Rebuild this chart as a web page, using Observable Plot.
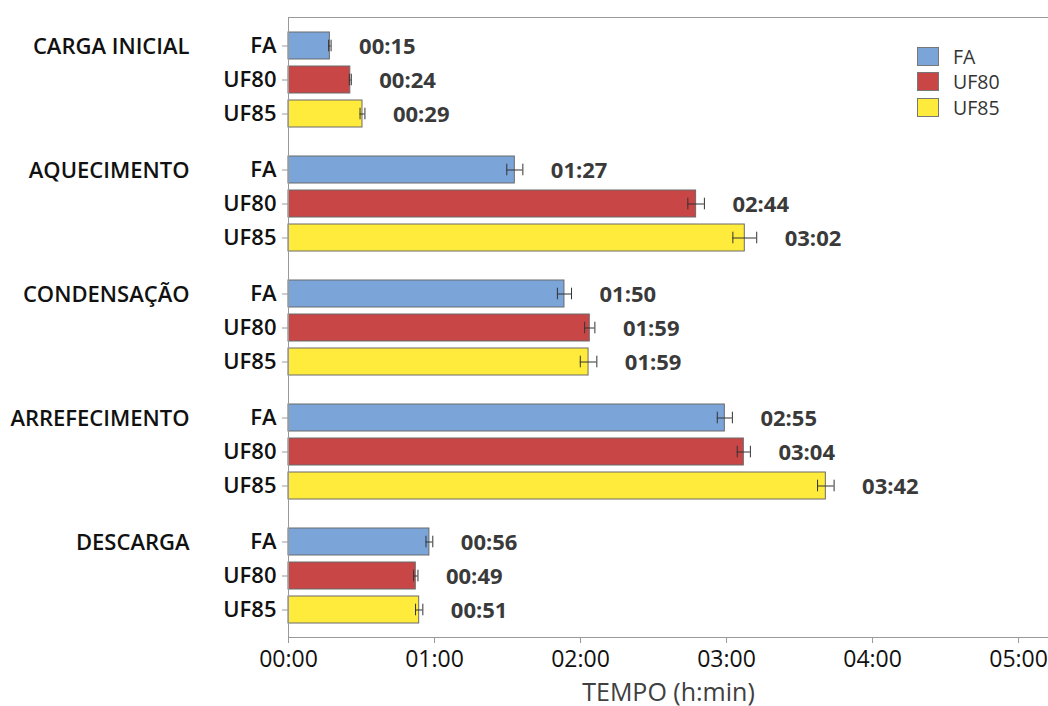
<!DOCTYPE html>
<html>
<head>
<meta charset="utf-8">
<script src="https://cdn.jsdelivr.net/npm/d3@7"></script>
<script src="https://cdn.jsdelivr.net/npm/@observablehq/plot@0.6"></script>
<style>
  html, body { margin: 0; padding: 0; background: #fff; }
  #wrap { position: relative; width: 1048px; height: 706px; font-family: "Open Sans", sans-serif; }
  #legend { position: absolute; left: 917px; top: 47px; }
  .li { display: flex; align-items: center; height: 19px; margin-bottom: 6.3px; }
  .sw { width: 20px; height: 17px; border: 1px solid #777; box-sizing: content-box; }
  .lt { margin-left: 14px; font-size: 19.5px; color: #333; line-height: 19px; }
</style>
</head>
<body>
<div id="wrap"><div id="legend"></div></div>
<script>
const groups = ["CARGA INICIAL", "AQUECIMENTO", "CONDENSAÇÃO", "ARREFECIMENTO", "DESCARGA"];
const series = ["FA", "UF80", "UF85"];
const colors = ["#7BA4D9", "#C84646", "#FFEB3B"];

// mean duration (minutes) per group, one array per series
const meanFA   = [17.0, 93.0, 113.4, 179.3, 57.9];
const meanUF80 = [25.4, 167.5, 123.8, 187.1, 52.3];
const meanUF85 = [30.4, 187.5, 123.3, 220.8, 53.7];
// half-width of the error bars (minutes)
const errFA   = [0.5, 3.3, 2.9, 3.1, 1.4];
const errUF80 = [0.4, 3.4, 2.1, 2.7, 0.9];
const errUF85 = [1.0, 4.9, 3.4, 3.4, 1.5];
// printed labels (h:min)
const labelFA   = ["00:15", "01:27", "01:50", "02:55", "00:56"];
const labelUF80 = ["00:24", "02:44", "01:59", "03:04", "00:49"];
const labelUF85 = ["00:29", "03:02", "01:59", "03:42", "00:51"];

const xTicks = [0, 60, 120, 180, 240, 300];
const xTickLabels = ["00:00", "01:00", "02:00", "03:00", "04:00", "05:00"];
const xMax = 312.3;

const means = [meanFA, meanUF80, meanUF85];
const errs = [errFA, errUF80, errUF85];
const labels = [labelFA, labelUF80, labelUF85];

const rows = [];
groups.forEach((g, gi) => {
  series.forEach((s, si) => {
    rows.push({group: g, series: s, value: means[si][gi], err: errs[si][gi], label: labels[si][gi]});
  });
});

const FONT = "Open Sans, sans-serif";

const chart = Plot.plot({
  width: 1048,
  height: 706,
  marginTop: 15,
  marginBottom: 67,
  marginLeft: 288,
  marginRight: 0,
  style: {fontFamily: FONT, background: "transparent", overflow: "visible"},
  x: {domain: [0, xMax]},
  fy: {domain: groups, padding: 0, axis: null},
  y: {domain: series, paddingInner: 0.206, paddingOuter: 0.41, axis: null},
  color: {domain: series, range: colors},
  marks: [
    Plot.barX(rows, {x: "value", y: "series", fy: "group", fill: "series", stroke: "#6a6a6a", strokeWidth: 1}),
    Plot.ruleY(rows, {x1: d => d.value - d.err, x2: d => d.value + d.err, y: "series", fy: "group", stroke: "#333", strokeWidth: 1}),
    Plot.tickX(rows, {x: d => d.value - d.err, y: "series", fy: "group", stroke: "#333", strokeWidth: 1, insetTop: 7.7, insetBottom: 7.7}),
    Plot.tickX(rows, {x: d => d.value + d.err, y: "series", fy: "group", stroke: "#333", strokeWidth: 1, insetTop: 7.7, insetBottom: 7.7}),
    Plot.text(rows, {x: d => d.value + d.err, y: "series", fy: "group", text: "label", textAnchor: "start", dx: 28, dy: 1,
      fontSize: 22, fontWeight: 700, fill: "#3a3a3a"}),
    Plot.axisY({tickSize: 6, tickPadding: 6, fontSize: 22, fontWeight: 600, stroke: "#999", fill: "#111", label: null}),
    Plot.text(groups, {fy: d => d, y: () => series[0], frameAnchor: "left", dx: -99, textAnchor: "end",
      fontSize: 22, fontWeight: 600, fill: "#111", dy: 1}),
    Plot.axisX({ticks: xTicks, tickFormat: d => xTickLabels[xTicks.indexOf(d)], tickSize: 6, tickPadding: 7,
      fontSize: 23, stroke: "#999", fill: "#111", label: null}),
    Plot.axisX({ticks: [], tickSize: 0, fontSize: 25, fill: "#404040", label: "TEMPO (h:min)",
      labelAnchor: "center", labelArrow: "none", labelOffset: 63}),
    Plot.frame({anchor: "top", facet: "super", stroke: "#999"}),
    Plot.frame({anchor: "left", facet: "super", stroke: "#999"}),
    Plot.frame({anchor: "bottom", facet: "super", stroke: "#999"})
  ]
});

document.getElementById("wrap").prepend(chart);

const legend = document.getElementById("legend");
series.forEach((s, i) => {
  const item = document.createElement("div");
  item.className = "li";
  const sw = document.createElement("div");
  sw.className = "sw";
  sw.style.background = colors[i];
  const t = document.createElement("span");
  t.className = "lt";
  t.textContent = s;
  item.append(sw, t);
  legend.append(item);
});
</script>
</body>
</html>
